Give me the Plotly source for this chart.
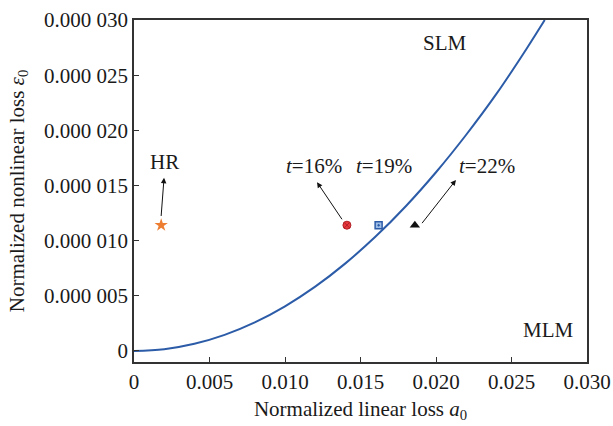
import plotly.graph_objects as go

# Boundary curve between the SLM and MLM regions
curve_a0 = [0.0, 0.002, 0.004, 0.006, 0.008, 0.010, 0.012, 0.014, 0.016,
            0.018, 0.020, 0.022, 0.024, 0.026, 0.0272]
curve_eps = [0.0, 0.16e-6, 0.65e-6, 1.46e-6, 2.59e-6, 4.05e-6, 5.83e-6, 7.94e-6,
             10.37e-6, 13.12e-6, 16.2e-6, 19.6e-6, 23.3e-6, 27.4e-6, 30.0e-6]

# Operating points
point_names = ["HR", "t=16%", "t=19%", "t=22%"]
point_a0 = [0.0018, 0.0141, 0.0162, 0.0186]
point_eps = [11.4e-6, 11.4e-6, 11.4e-6, 11.4e-6]

x_ticks = [0, 0.005, 0.010, 0.015, 0.020, 0.025, 0.030]
x_tick_text = ["0", "0.005", "0.010", "0.015", "0.020", "0.025", "0.030"]
y_ticks = [0, 5e-6, 10e-6, 15e-6, 20e-6, 25e-6, 30e-6]
y_tick_text = ["0", "0.000 005", "0.000 010", "0.000 015", "0.000 020",
               "0.000 025", "0.000 030"]

FONT = "Liberation Serif"
TEXT = "#1a1a1a"

fig = go.Figure()
fig.add_trace(go.Scatter(
    x=curve_a0, y=curve_eps, mode="lines",
    line=dict(color="#2C5CA8", width=2, shape="spline"),
    showlegend=False, hoverinfo="skip"))

marker_styles = [
    dict(symbol="star", color="#ED7D31", size=10, line=dict(width=0)),
    dict(symbol="circle-x", color="#E8383D", size=8, line=dict(color="#B02025", width=1)),
    dict(symbol="square-dot", color="#9DBDE6", size=7, line=dict(color="#2C5CA8", width=1.5)),
    dict(symbol="triangle-up", color="#111111", size=9, line=dict(width=0)),
]
for name, xa, ye, st in zip(point_names, point_a0, point_eps, marker_styles):
    fig.add_trace(go.Scatter(x=[xa], y=[ye], mode="markers", name=name,
                             marker=st, showlegend=False))

# Arrows: head (x, y) and tail (ax, ay)
arrows = [
    (0.00199, 15.7e-6, 0.00179, 12.1e-6),
    (0.01212, 15.3e-6, 0.01384, 11.8e-6),
    (0.02132, 15.5e-6, 0.0190, 11.45e-6),
]
for hx, hy, tx, ty in arrows:
    fig.add_annotation(x=hx, y=hy, ax=tx, ay=ty, xref="x", yref="y",
                       axref="x", ayref="y", text="", showarrow=True,
                       arrowhead=2, arrowsize=1.1, arrowwidth=1, arrowcolor="#111111")

labels = [
    ("HR", 0.00205, 17.1e-6),
    ("<i>t</i>=16%", 0.01192, 16.8e-6),
    ("<i>t</i>=19%", 0.01656, 16.8e-6),
    ("<i>t</i>=22%", 0.02338, 16.8e-6),
    ("SLM", 0.0206, 27.9e-6),
    ("MLM", 0.02742, 1.9e-6),
]
for txt, xa, ye in labels:
    fig.add_annotation(x=xa, y=ye, xref="x", yref="y", text=txt, showarrow=False,
                       font=dict(family=FONT, size=21, color=TEXT))

axis_common = dict(
    showline=True, linecolor="#333333", linewidth=1.5, mirror=True,
    ticks="inside", ticklen=5, tickwidth=1, tickcolor="#333333",
    showgrid=False, zeroline=False, automargin=False,
    tickfont=dict(family=FONT, size=21, color=TEXT),
)
fig.update_xaxes(range=[0, 0.030], tickvals=x_ticks, ticktext=x_tick_text,
                 title=dict(text="Normalized linear loss <i>a</i><sub>0</sub>",
                            font=dict(family=FONT, size=21, color=TEXT),
                            standoff=8),
                 **axis_common)
fig.update_yaxes(range=[-1e-6, 30e-6], tickvals=y_ticks, ticktext=y_tick_text,
                 title=dict(text="Normalized nonlinear loss <i>ε</i><sub>0</sub>",
                            font=dict(family=FONT, size=21, color=TEXT),
                            standoff=14),
                 **axis_common)

fig.update_layout(width=613, height=426, plot_bgcolor="white", paper_bgcolor="white",
                  margin=dict(l=134, r=26, t=20, b=64))

fig.write_html("out.html")
